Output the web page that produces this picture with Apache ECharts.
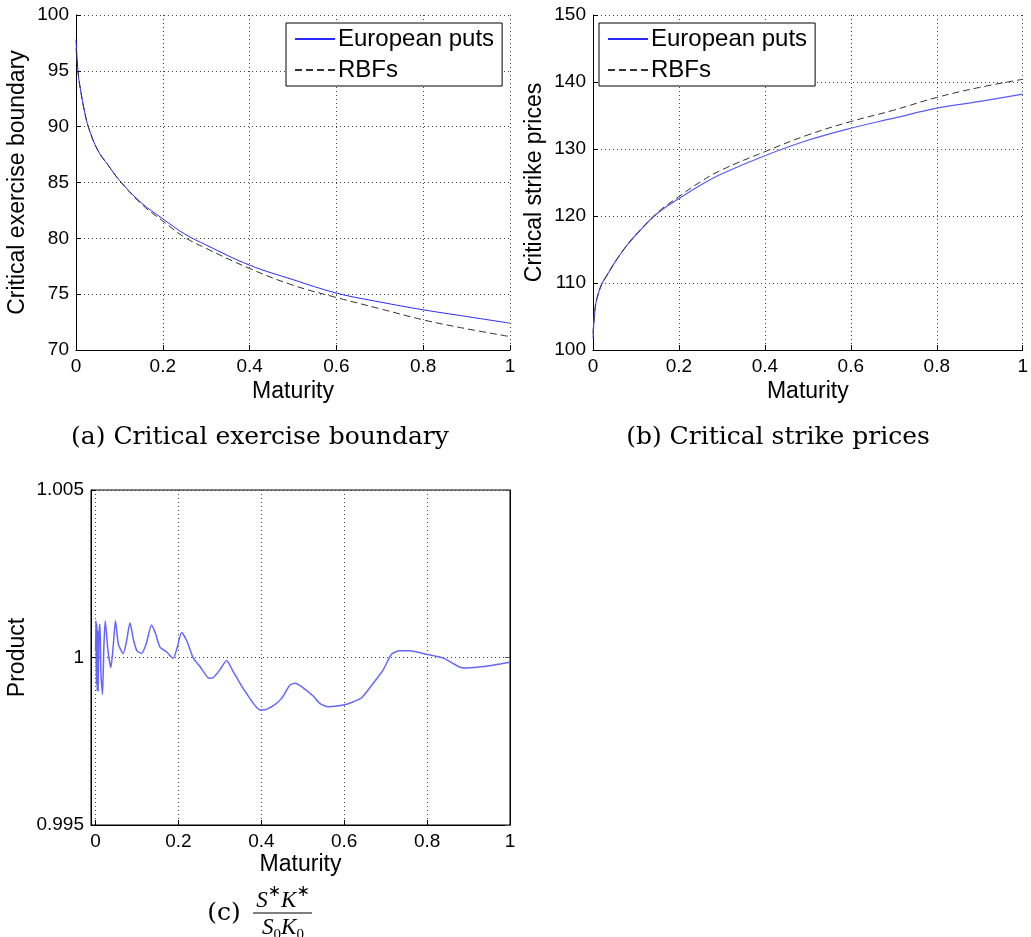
<!DOCTYPE html>
<html>
<head>
<meta charset="utf-8">
<script src="https://cdn.jsdelivr.net/npm/echarts@6/dist/echarts.min.js"></script>
<style>
  html, body { margin: 0; padding: 0; background: #fff; }
  #grafica { width: 1031px; height: 937px; }
</style>
</head>
<body>
<div id="grafica"></div>
<script>
// maturities shared by panels (a) and (b)
let maturity = [0, 0.005, 0.01, 0.02, 0.03, 0.05, 0.075, 0.1, 0.15, 0.2, 0.25, 0.3, 0.4, 0.5, 0.6, 0.7, 0.8, 0.9, 1.0];

// (a) critical exercise boundary
let boundaryEuropean = [97.8, 94.8, 93.4, 91.3, 89.8, 87.9, 86.5, 85.2, 83.2, 81.75, 80.4, 79.4, 77.6, 76.3, 75.1, 74.3, 73.6, 73.0, 72.4];
let boundaryRBF = [97.0, 94.8, 93.4, 91.3, 89.8, 87.9, 86.5, 85.2, 83.1, 81.55, 80.1, 79.1, 77.3, 75.8, 74.7, 73.7, 72.7, 71.9, 71.2];

// (b) critical strike prices
let strikeEuropean = [101.8, 106.3, 107.9, 109.8, 110.9, 113.0, 115.3, 117.2, 120.4, 122.6, 124.6, 126.3, 129.0, 131.3, 133.1, 134.6, 136.1, 137.1, 138.2];
let strikeRBF = [102.5, 106.3, 107.9, 109.8, 110.9, 113.0, 115.3, 117.2, 120.5, 122.9, 125.1, 126.9, 129.6, 132.1, 134.1, 135.8, 137.7, 139.2, 140.4];

// (c) product S*K*/(S0K0)
let productX = [0, 0.001, 0.002, 0.003, 0.004, 0.005, 0.006, 0.008, 0.0105, 0.013, 0.0168, 0.02, 0.0233, 0.03, 0.037, 0.043, 0.048, 0.055, 0.0667, 0.075, 0.083, 0.092, 0.1, 0.111, 0.122, 0.135, 0.145, 0.155, 0.171, 0.187, 0.197, 0.2075, 0.22, 0.236, 0.252, 0.274, 0.284, 0.3, 0.316, 0.332, 0.356, 0.397, 0.405, 0.429, 0.449, 0.469, 0.481, 0.497, 0.525, 0.541, 0.561, 0.598, 0.622, 0.642, 0.67, 0.694, 0.714, 0.734, 0.758, 0.798, 0.839, 0.879, 0.895, 0.936, 1.0];
let productY = [1.0002, 1.0011, 0.9992, 1.001, 0.999, 1.0008, 0.999, 1.0006, 1.001, 0.9995, 0.9989, 1.0003, 1.0011, 1.0002, 0.9997, 1.0004, 1.0011, 1.0004, 1.00012, 1.0005, 1.00104, 1.0005, 1.0002, 1.00012, 1.0004, 1.00097, 1.0007, 1.00032, 1.00017, 0.99997, 1.0003, 1.00075, 1.0005, 0.99998, 0.99973, 0.99938, 0.9994, 0.99963, 0.99991, 0.99958, 0.99908, 0.99843, 0.99843, 0.99856, 0.99878, 0.99918, 0.99923, 0.99913, 0.99885, 0.99863, 0.99853, 0.99858, 0.99868, 0.9988, 0.99923, 0.99963, 1.0001, 1.0002, 1.0002, 1.0001, 0.99998, 0.99971, 0.99969, 0.99973, 0.99986];

let xTicks = [0, 0.2, 0.4, 0.6, 0.8, 1];

function pares(xs, ys) {
  let out = [];
  for (let i = 0; i < xs.length; i++) out.push([xs[i], ys[i]]);
  return out;
}

let fuente = 'Liberation Sans, Arial, sans-serif';
let serif = 'DejaVu Serif, Liberation Serif, serif';
let mathFont = 'Liberation Serif, serif';
let punteado = { show: true, lineStyle: { color: '#444', type: [1, 3], width: 1 } };
let tickAdentro = { show: true, inside: true, length: 5, lineStyle: { color: '#000' } };
let etiqueta = { color: '#000', fontSize: 19, fontFamily: fuente, margin: 7 };
let nombre = { color: '#000', fontSize: 23, fontFamily: fuente };

function ejeX(grid, extra) {
  return Object.assign({
    type: 'value', gridIndex: grid, min: 0, max: 1, interval: 0.2,
    name: 'Maturity', nameLocation: 'middle', nameGap: 30, nameTextStyle: nombre,
    axisLine: { show: true, onZero: false, lineStyle: { color: '#000', width: 1 } },
    axisTick: tickAdentro, axisLabel: etiqueta, splitLine: punteado
  }, extra || {});
}

function ejeY(grid, min, max, interval, name, gap, extra) {
  return Object.assign({
    type: 'value', gridIndex: grid, min: min, max: max, interval: interval,
    name: name, nameLocation: 'middle', nameGap: gap, nameTextStyle: nombre,
    axisLine: { show: true, onZero: false, lineStyle: { color: '#000', width: 1 } },
    axisTick: tickAdentro, axisLabel: etiqueta, splitLine: punteado
  }, extra || {});
}

let chartDom = document.getElementById('grafica');
let myChart = echarts.init(chartDom, null, { renderer: 'canvas' });

let option = {
  backgroundColor: '#fff',
  animation: false,
  grid: [
    { left: 76, top: 15, width: 434, height: 335 },
    { left: 593, top: 15, width: 435, height: 335 },
    { left: 91, top: 490, width: 419, height: 335, show: true, borderColor: '#000', borderWidth: 1 }
  ],
  xAxis: [
    ejeX(0),
    ejeX(1),
    ejeX(2, {
      min: -0.011, max: 1, interval: null,
      axisTick: Object.assign({ customValues: xTicks }, tickAdentro),
      axisLabel: Object.assign({ customValues: xTicks }, etiqueta),
      nameGap: 28
    })
  ],
  yAxis: [
    ejeY(0, 70, 100, 5, 'Critical exercise boundary', 47),
    ejeY(1, 100, 150, 10, 'Critical strike prices', 47),
    ejeY(2, 0.995, 1.005, 0.005, 'Product', 62, {
      axisLabel: Object.assign({}, etiqueta, { formatter: v => String(+v.toFixed(3)) })
    }),
    // mirrored ticks on the right edge of panel (c)
    ejeY(2, 0.995, 1.005, 0.005, '', 0, {
      position: 'right', axisLabel: { show: false }, splitLine: { show: false },
      axisTick: { show: true, inside: true, length: 5, lineStyle: { color: '#555' } }
    })
  ],
  legend: [
    {
      left: 286, top: 23, width: 219, orient: 'vertical', itemGap: 7, itemWidth: 40, itemHeight: 14,
      padding: [4, 8, 4, 8], borderColor: '#000', borderWidth: 1, backgroundColor: '#fff',
      itemStyle: { opacity: 0 },
      textStyle: { color: '#000', fontSize: 24, fontFamily: fuente, padding: [0, 0, 0, -2] },
      data: ['European puts', 'RBFs']
    }
  ],
  series: [
    { name: 'European puts', type: 'line', xAxisIndex: 0, yAxisIndex: 0, data: pares(maturity, boundaryEuropean),
      symbol: 'none', smooth: 0.4, lineStyle: { color: '#2a2aff', width: 1 }, itemStyle: { color: '#2a2aff' }, z: 3 },
    { name: 'RBFs', type: 'line', xAxisIndex: 0, yAxisIndex: 0, data: pares(maturity, boundaryRBF),
      symbol: 'none', smooth: 0.4, lineStyle: { color: '#333', width: 1, type: [7, 4] }, itemStyle: { color: '#333' }, z: 4 },
    { name: 'European puts', type: 'line', xAxisIndex: 1, yAxisIndex: 1, data: pares(maturity, strikeEuropean),
      symbol: 'none', smooth: 0.4, lineStyle: { color: '#5a5aff', width: 1.2 }, itemStyle: { color: '#5a5aff' }, z: 3 },
    { name: 'RBFs', type: 'line', xAxisIndex: 1, yAxisIndex: 1, data: pares(maturity, strikeRBF),
      symbol: 'none', smooth: 0.4, lineStyle: { color: '#333', width: 1, type: [7, 4] }, itemStyle: { color: '#333' }, z: 4 },
    { name: 'Product', type: 'line', xAxisIndex: 2, yAxisIndex: 2, data: pares(productX, productY),
      symbol: 'none', smooth: 0.2, lineStyle: { color: '#6666ff', width: 1.5 }, z: 3 }
  ],
  graphic: [
    { type: 'text', x: 260, y: 437, style: { text: '(a) Critical exercise boundary', fontSize: 25, fontFamily: serif, fill: '#000', align: 'center', verticalAlign: 'middle' } },
    { type: 'text', x: 778, y: 437, style: { text: '(b) Critical strike prices', fontSize: 25, fontFamily: serif, fill: '#000', align: 'center', verticalAlign: 'middle' } },
    { type: 'text', x: 224, y: 913, style: { text: '(c)', fontSize: 25, fontFamily: serif, fill: '#000', align: 'center', verticalAlign: 'middle' } },
    { type: 'text', x: 283, y: 912, style: {
      text: '{i|S}{sup|\u2217}{i|K}{sup|\u2217}', align: 'center', verticalAlign: 'bottom', fill: '#000',
      rich: {
        i: { fontSize: 23, fontStyle: 'italic', fontFamily: mathFont, lineHeight: 28, verticalAlign: 'bottom' },
        sup: { fontSize: 16, fontFamily: 'DejaVu Sans', lineHeight: 28, verticalAlign: 'top' }
      } } },
    { type: 'line', shape: { x1: 253, y1: 913, x2: 312, y2: 913 }, style: { stroke: '#000', lineWidth: 1 } },
    { type: 'text', x: 283, y: 913, style: {
      text: '{i|S}{sub|0}{i|K}{sub|0}', align: 'center', verticalAlign: 'top', fill: '#000',
      rich: {
        i: { fontSize: 23, fontStyle: 'italic', fontFamily: mathFont, lineHeight: 30, verticalAlign: 'middle' },
        sub: { fontSize: 15, fontFamily: mathFont, lineHeight: 30, verticalAlign: 'bottom' }
      } } }
  ]
};

// second legend for panel (b)
option.legend.push(Object.assign({}, option.legend[0], { left: 599, width: 218 }));

myChart.setOption(option);
</script>
</body>
</html>
